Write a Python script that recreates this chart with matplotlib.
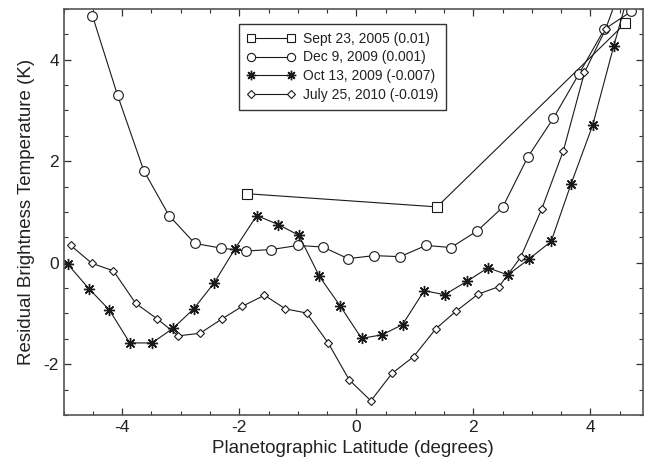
import matplotlib
matplotlib.use("Agg")
import matplotlib.pyplot as plt
from matplotlib.ticker import MultipleLocator

plt.rcParams['font.family'] = ['Liberation Sans', 'DejaVu Sans']
plt.rcParams['axes.unicode_minus'] = False

# Sept 23, 2005 (0.01)
sep05_x = [-1.87, 1.38, 4.60]
sep05_y = [1.36, 1.10, 4.72]

# Dec 9, 2009 (0.001)
dec09_x = [-4.51, -4.08, -3.63, -3.20, -2.76, -2.32, -1.89, -1.45, -1.00, -0.57, -0.14,
           0.30, 0.75, 1.19, 1.62, 2.07, 2.50, 2.93, 3.37, 3.80, 4.24, 4.70]
dec09_y = [4.87, 3.30, 1.81, 0.93, 0.38, 0.29, 0.23, 0.26, 0.34, 0.31, 0.08,
           0.14, 0.12, 0.34, 0.30, 0.63, 1.09, 2.08, 2.85, 3.71, 4.60, 4.95]

# Oct 13, 2009 (-0.007)
oct09_x = [-4.93, -4.57, -4.22, -3.87, -3.49, -3.13, -2.78, -2.43, -2.07, -1.70, -1.33,
           -0.98, -0.63, -0.27, 0.09, 0.44, 0.79, 1.16, 1.51, 1.90, 2.25, 2.59, 2.96,
           3.33, 3.67, 4.04, 4.40, 4.76]
oct09_y = [-0.03, -0.51, -0.93, -1.58, -1.58, -1.29, -0.91, -0.40, 0.28, 0.93, 0.75,
           0.54, -0.27, -0.86, -1.49, -1.42, -1.22, -0.55, -0.63, -0.36, -0.10, -0.24, 0.08,
           0.42, 1.55, 2.71, 4.27, 5.75]

# July 25, 2010 (-0.019)
jul10_x = [-4.88, -4.52, -4.15, -3.77, -3.41, -3.04, -2.67, -2.30, -1.95, -1.57, -1.21,
           -0.85, -0.48, -0.12, 0.25, 0.61, 0.98, 1.36, 1.71, 2.08, 2.44, 2.81, 3.17,
           3.54, 3.90, 4.26, 4.63]
jul10_y = [0.34, -0.01, -0.16, -0.80, -1.10, -1.44, -1.39, -1.11, -0.86, -0.64, -0.91,
           -0.99, -1.58, -2.31, -2.72, -2.18, -1.85, -1.30, -0.95, -0.62, -0.47, 0.11, 1.06,
           2.21, 3.75, 4.60, 5.77]

labels = ["Sept 23, 2005 (0.01)", "Dec 9, 2009 (0.001)",
          "Oct 13, 2009 (-0.007)", "July 25, 2010 (-0.019)"]

fig = plt.figure(figsize=(6.48, 4.70), dpi=100)
ax = fig.add_axes([0.0983, 0.117, 0.894, 0.864])

lc = '#1a1a1a'
lw = 0.8
ax.plot(sep05_x, sep05_y, color=lc, lw=lw, marker='s', ms=6.5, mfc='white', mec=lc, mew=0.8,
        label=labels[0])
ax.plot(dec09_x, dec09_y, color=lc, lw=lw, marker='o', ms=7, mfc='white', mec=lc, mew=0.8,
        label=labels[1])
ax.plot(oct09_x, oct09_y, color=lc, lw=lw, marker=(8, 2, 0), ms=8, mfc=lc, mec=lc, mew=1.0,
        label=labels[2])
ax.plot(jul10_x, jul10_y, color=lc, lw=lw, marker='D', ms=4.5, mfc='white', mec=lc, mew=0.8,
        label=labels[3])

ax.set_xlim(-5, 4.9)
ax.set_ylim(-3, 5)
ax.set_xticks([-4, -2, 0, 2, 4])
ax.set_yticks([-2, 0, 2, 4])
ax.xaxis.set_minor_locator(MultipleLocator(0.5))
ax.yaxis.set_minor_locator(MultipleLocator(0.5))
ax.tick_params(which='both', direction='in', top=True, right=True, colors='#333333',
               labelcolor='#222222', labelsize=12.5)
ax.tick_params(which='major', length=5, width=0.9)
ax.tick_params(which='minor', length=3, width=0.8)
for s in ax.spines.values():
    s.set_color('#555555')
    s.set_linewidth(1.2)

ax.set_xlabel("Planetographic Latitude (degrees)", fontsize=13.5, color='#222222', labelpad=4)
ax.set_ylabel("Residual Brightness Temperature (K)", fontsize=13.5, color='#222222', labelpad=6)

leg = ax.legend(loc='upper left', bbox_to_anchor=(0.3026, 0.963), borderaxespad=0,
                fontsize=10, numpoints=2, handlelength=3.5, fancybox=False,
                framealpha=1, edgecolor='#333333', labelspacing=0.35, borderpad=0.55,
                handletextpad=0.55, markerscale=0.85)
leg.get_frame().set_linewidth(1.0)
for t in leg.get_texts():
    t.set_color('#222222')

fig.savefig("out.png", dpi=100)
